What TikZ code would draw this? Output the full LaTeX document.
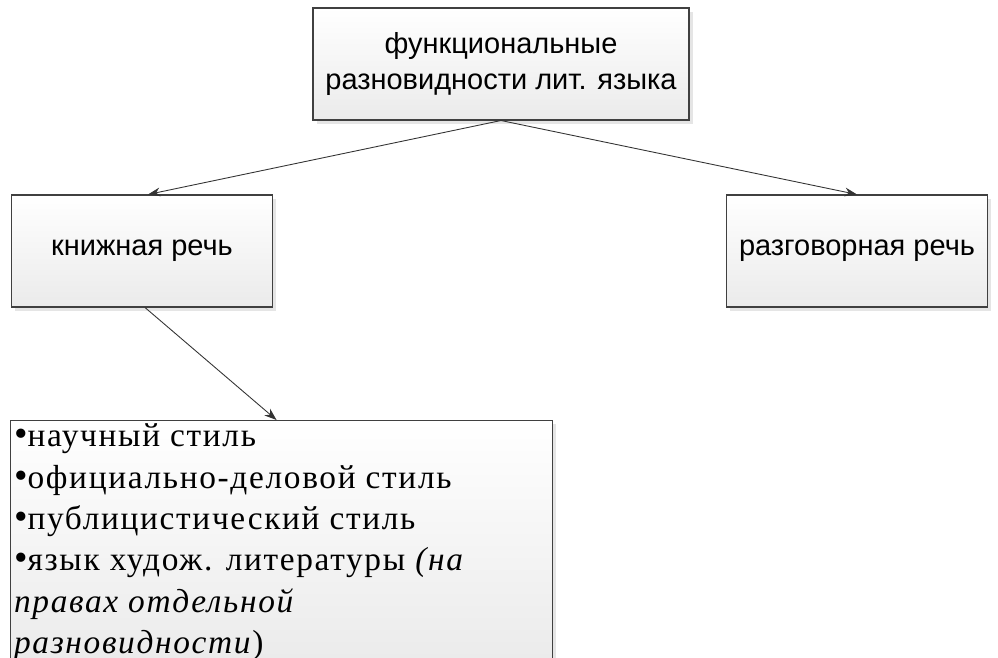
\documentclass[tikz,border=0pt]{standalone}
\usepackage{fontspec}
\setmainfont{Liberation Serif}
\newfontfamily\arialfont{Liberation Sans}
\usetikzlibrary{shadows,arrows.meta}
\tikzset{
  stylebox/.style={draw=black!75, line width=0.6pt, top color=white, bottom color=black!8,
    drop shadow={shadow xshift=2pt, shadow yshift=-2pt, fill=black!20}},
  conn/.style={-{Stealth[length=7pt,width=5pt]}, black!80, line width=0.5pt}
}
\newcommand{\bul}{{\fontsize{22}{23.5}\selectfont•}}
\begin{document}
\begin{tikzpicture}[x=0.02cm, y=-0.02cm]
\useasboundingbox (0,0) rectangle (998,658);

% boxes
\node[stylebox, minimum width=376*0.02cm, minimum height=112*0.02cm, align=center,
  font=\arialfont\fontsize{16.5}{21}\selectfont] (lit) at (501,64)
  {функциональные\\разновидности лит. языка};
\node[stylebox, minimum width=261*0.02cm, minimum height=112*0.02cm,
  font=\arialfont\fontsize{16.5}{21}\selectfont] (book) at (142,251) {книжная речь};
\node[stylebox, minimum width=261*0.02cm, minimum height=112*0.02cm,
  font=\arialfont\fontsize{16.5}{21}\selectfont] (talk) at (857,251) {разговорная речь};
\node[stylebox, minimum width=541*0.02cm, minimum height=225*0.02cm, inner sep=2pt,
  align=flush left, anchor=north west, text width=535*0.02cm,
  font=\addfontfeatures{LetterSpace=5}\fontsize{19}{23.5}\selectfont] (styles) at (10,420)
  {\bul научный стиль\\
   \bul официально-деловой стиль\\
   \bul публицистический стиль\\
   \bul язык худож. литературы \textit{(на}\\
   \textit{правах отдельной разновидности})};

% arrows
\draw[conn] (lit.south) -- ([xshift=6*0.02cm]book.north);
\draw[conn] (lit.south) -- (talk.north);
\draw[conn] ([xshift=3*0.02cm]book.south) -- ([xshift=-5*0.02cm]styles.north);
\end{tikzpicture}
\end{document}
